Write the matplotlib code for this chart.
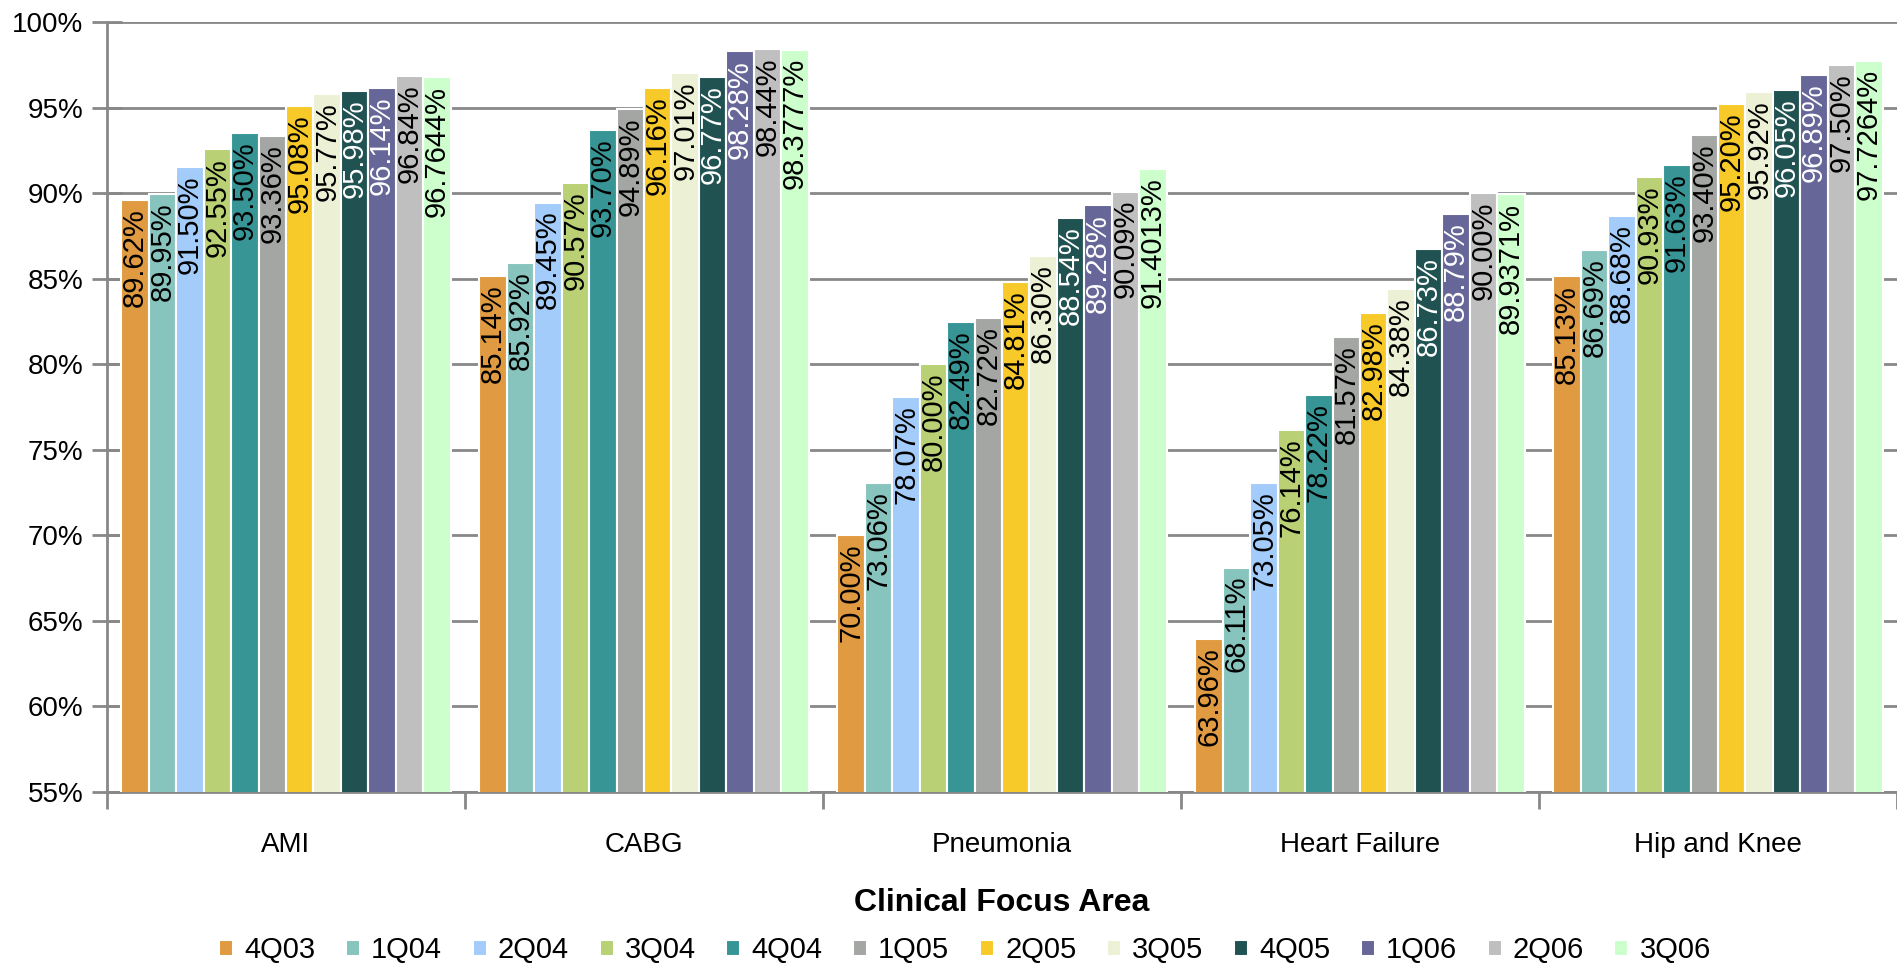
import numpy as np
import matplotlib
matplotlib.use("Agg")
import matplotlib.pyplot as plt
from matplotlib.ticker import FuncFormatter, FixedLocator

plt.rcParams['font.family'] = ['Liberation Sans', 'DejaVu Sans']

# data
areas = ["AMI", "CABG", "Pneumonia", "Heart Failure", "Hip and Knee"]
quarters = ["4Q03", "1Q04", "2Q04", "3Q04", "4Q04", "1Q05",
            "2Q05", "3Q05", "4Q05", "1Q06", "2Q06", "3Q06"]
colors = ["#E09A41", "#88C4BE", "#A3CCFB", "#B9D174", "#389596", "#A4A6A4",
          "#F7CA2A", "#ECF1D6", "#215252", "#666699", "#BFBFBF", "#CCFFCC"]

ami = [89.62, 89.95, 91.50, 92.55, 93.50, 93.36, 95.08, 95.77, 95.98, 96.14, 96.84, 96.7644]
cabg = [85.14, 85.92, 89.45, 90.57, 93.70, 94.89, 96.16, 97.01, 96.77, 98.28, 98.44, 98.3777]
pneumonia = [70.00, 73.06, 78.07, 80.00, 82.49, 82.72, 84.81, 86.30, 88.54, 89.28, 90.09, 91.4013]
heart_failure = [63.96, 68.11, 73.05, 76.14, 78.22, 81.57, 82.98, 84.38, 86.73, 88.79, 90.00, 89.9371]
hip_knee = [85.13, 86.69, 88.68, 90.93, 91.63, 93.40, 95.20, 95.92, 96.05, 96.89, 97.50, 97.7264]

values = np.array([ami, cabg, pneumonia, heart_failure, hip_knee])  # areas x quarters

fig = plt.figure(figsize=(18.97, 9.65), dpi=100)
ax = fig.add_axes([0.0564, 0.1793, 0.9436, 0.7979])

grey = "#888888"
n = len(quarters)
w = 0.0766
groups = np.arange(len(areas))

for j, q in enumerate(quarters):
    x = groups + 0.5 + (j - (n - 1) / 2) * w
    ax.bar(x, values[:, j], width=w, bottom=0, color=colors[j],
           edgecolor="white", linewidth=1.5, label=q, zorder=3)
    txt_color = "white" if q in ("4Q05", "1Q06") else "black"
    for xi, v in zip(x, values[:, j]):
        lab = f"{v:.4f}%" if j == n - 1 else f"{v:.2f}%"
        ax.annotate(lab, (xi, v), xytext=(0, -6), textcoords="offset points",
                    rotation=90, ha="center", va="top", fontsize=21,
                    color=txt_color, zorder=4)

ax.set_ylim(55, 100)
ax.set_xlim(0, len(areas))
ax.set_yticks(np.arange(55, 101, 5))
ax.yaxis.set_major_formatter(FuncFormatter(lambda v, p: f"{v:.0f}%"))
ax.yaxis.grid(True, color=grey, linewidth=2)
ax.set_axisbelow(True)

ax.set_xticks(groups + 0.5)
ax.set_xticklabels(areas, fontsize=20)
ax.xaxis.set_minor_locator(FixedLocator(np.arange(len(areas) + 1)))
ax.tick_params(axis="x", which="major", length=0, pad=29)
ax.tick_params(axis="x", which="minor", length=12, width=2, color=grey, direction="out")
ax.tick_params(axis="y", length=22, width=2, color=grey, direction="inout",
               labelsize=20, pad=6)

for s in ["top", "right"]:
    ax.spines[s].set_visible(False)
for s in ["left", "bottom"]:
    ax.spines[s].set_color(grey)
    ax.spines[s].set_linewidth(2)

ax.set_xlabel("Clinical Focus Area", fontsize=23, fontweight="bold")
ax.xaxis.set_label_coords(0.5, -0.144)
ax.xaxis.label.set_va("center")

fig.legend(loc="center", bbox_to_anchor=(0.5087, 0.0155), ncol=12, frameon=False,
           fontsize=21, handlelength=0.48, handleheight=0.48, handletextpad=0.38,
           columnspacing=1.05, borderpad=0, borderaxespad=0)

fig.savefig("out.png", dpi=100)
